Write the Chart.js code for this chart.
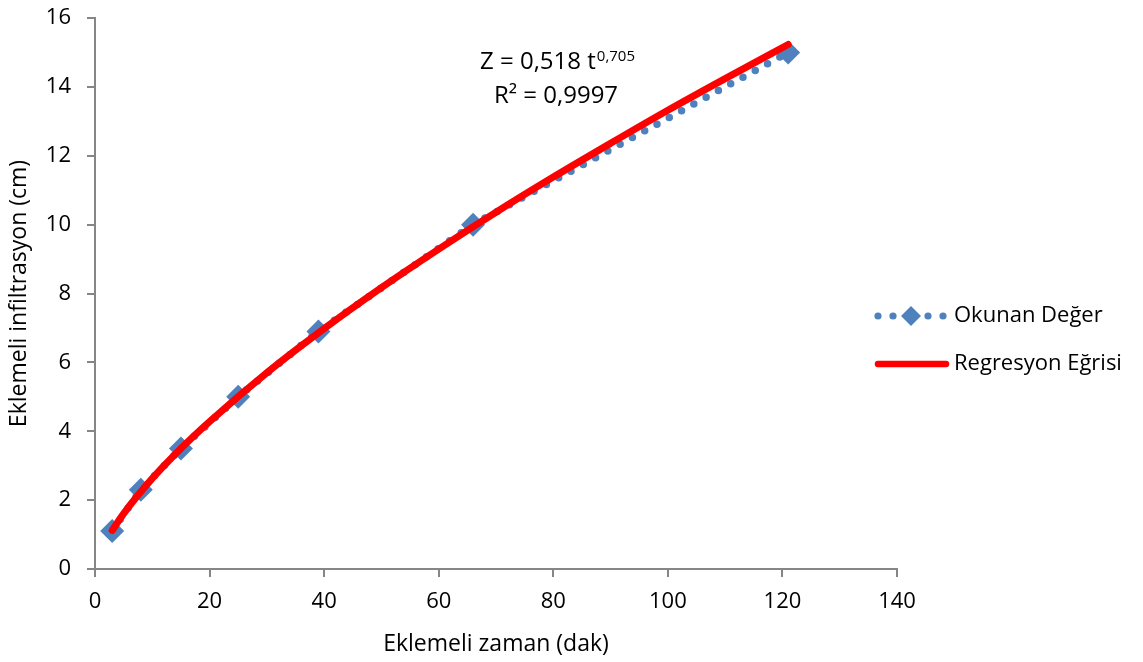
<!DOCTYPE html>
<html>
<head>
<meta charset="utf-8">
<title>Eklemeli infiltrasyon</title>
<script src="https://cdn.jsdelivr.net/npm/chart.js@4.4.1/dist/chart.umd.min.js"></script>
<style>
  html, body { margin: 0; padding: 0; background: #fff; }
  #wrap { width: 1143px; height: 662px; }
</style>
</head>
<body>
<div id="wrap"><canvas id="infChart" width="1143" height="662"></canvas></div>
<script>
// measured cumulative infiltration
const timeValues = [3, 8, 15, 25, 39, 66, 121];
const measured = [1.1, 2.3, 3.5, 5.0, 6.9, 10.0, 15.0];

// regression curve read along its path
const trendTime = [3, 5, 10, 15, 20, 30, 40, 50, 60, 70, 80, 90, 100, 110, 121];
const trendValues = [1.12, 1.61, 2.63, 3.50, 4.28, 5.70, 6.98, 8.17, 9.29, 10.36, 11.38, 12.36, 13.32, 14.24, 15.23];

const xTicks = [0, 20, 40, 60, 80, 100, 120, 140];
const yTicks = [0, 2, 4, 6, 8, 10, 12, 14, 16];

const seriesNames = ['Okunan Değer', 'Regresyon Eğrisi'];
const equationMain = 'Z = 0,518 t';
const equationExp = '0,705';
const rSquared = 'R² = 0,9997';

const FONT = "'Open Sans', 'Noto Sans', sans-serif";
const BLUE = '#4F81BD';
const RED = '#FF0000';
const AXIS = '#868686';

const measuredPts = timeValues.map((t, i) => ({ x: t, y: measured[i] }));
const trendPts = trendTime.map((t, i) => ({ x: t, y: trendValues[i] }));

// equation text and the legend on the right
const extras = {
    id: 'extras',
    afterDraw(chart) {
        const ctx = chart.ctx;
        ctx.save();
        ctx.fillStyle = '#000';
        ctx.textBaseline = 'alphabetic';

        ctx.font = `24px ${FONT}`;
        const wMain = ctx.measureText(equationMain).width;
        ctx.font = `15px ${FONT}`;
        const wExp = ctx.measureText(equationExp).width;
        const x0 = 557 - (wMain + wExp) / 2;
        ctx.textAlign = 'left';
        ctx.font = `24px ${FONT}`;
        ctx.fillText(equationMain, x0, 69);
        ctx.font = `15px ${FONT}`;
        ctx.fillText(equationExp, x0 + wMain + 1, 61);
        ctx.font = `24px ${FONT}`;
        ctx.textAlign = 'center';
        ctx.fillText(rSquared, 556, 103);

        // legend
        const ly1 = 316, ly2 = 364;
        ctx.fillStyle = BLUE;
        [878, 893, 928, 943].forEach(dx => {
            ctx.beginPath();
            ctx.arc(dx, ly1, 3.6, 0, Math.PI * 2);
            ctx.fill();
        });
        ctx.beginPath();
        ctx.moveTo(911, ly1 - 10);
        ctx.lineTo(921, ly1);
        ctx.lineTo(911, ly1 + 10);
        ctx.lineTo(901, ly1);
        ctx.closePath();
        ctx.fill();

        ctx.strokeStyle = RED;
        ctx.lineWidth = 6.5;
        ctx.lineCap = 'round';
        ctx.beginPath();
        ctx.moveTo(878, ly2);
        ctx.lineTo(946, ly2);
        ctx.stroke();

        ctx.fillStyle = '#000';
        ctx.font = `22px ${FONT}`;
        ctx.textAlign = 'left';
        ctx.textBaseline = 'middle';
        ctx.fillText(seriesNames[0], 954, ly1);
        ctx.fillText(seriesNames[1], 954, ly2);
        ctx.restore();
    }
};

new Chart(document.getElementById('infChart'), {
    type: 'scatter',
    data: {
        datasets: [
            {
                label: seriesNames[1],
                data: trendPts,
                showLine: true,
                borderColor: RED,
                borderWidth: 7,
                borderCapStyle: 'round',
                cubicInterpolationMode: 'monotone',
                pointRadius: 0,
                order: 0
            },
            {
                label: seriesNames[0],
                data: measuredPts,
                showLine: true,
                borderColor: BLUE,
                borderWidth: 7.5,
                borderDash: [0, 14],
                borderCapStyle: 'round',
                pointStyle: 'rectRot',
                pointRadius: 12,
                pointBackgroundColor: BLUE,
                pointBorderWidth: 0,
                order: 1
            }
        ]
    },
    options: {
        responsive: false,
        animation: false,
        layout: { padding: { left: 0, top: 18, right: 246, bottom: 0 } },
        plugins: {
            legend: { display: false },
            tooltip: { enabled: false }
        },
        scales: {
            x: {
                type: 'linear',
                min: 0,
                max: 140,
                afterBuildTicks: s => { s.ticks = xTicks.map(v => ({ value: v })); },
                afterFit: s => { s.height = 93; },
                ticks: { color: '#000', font: { family: FONT, size: 22 }, padding: 12 },
                grid: { drawOnChartArea: false, drawTicks: true, tickLength: 8, color: AXIS, lineWidth: 2 },
                border: { color: AXIS, width: 2 },
                title: { display: true, text: 'Eklemeli zaman (dak)', color: '#000', font: { family: FONT, size: 23 }, padding: { top: 0, bottom: 4 } }
            },
            y: {
                type: 'linear',
                min: 0,
                max: 16,
                afterBuildTicks: s => { s.ticks = yTicks.map(v => ({ value: v })); },
                afterFit: s => {
                    s.width = 95;
                    s.paddingTop = 10;
                    s.paddingBottom = 10;
                },
                ticks: { color: '#000', font: { family: FONT, size: 22 }, padding: 16 },
                grid: { drawOnChartArea: false, drawTicks: true, tickLength: 8, color: AXIS, lineWidth: 2 },
                border: { color: AXIS, width: 2 },
                title: { display: true, text: 'Eklemeli infiltrasyon (cm)', color: '#000', font: { family: FONT, size: 23 }, padding: { top: 6, bottom: 0 } }
            }
        }
    },
    plugins: [extras]
});
</script>
</body>
</html>
